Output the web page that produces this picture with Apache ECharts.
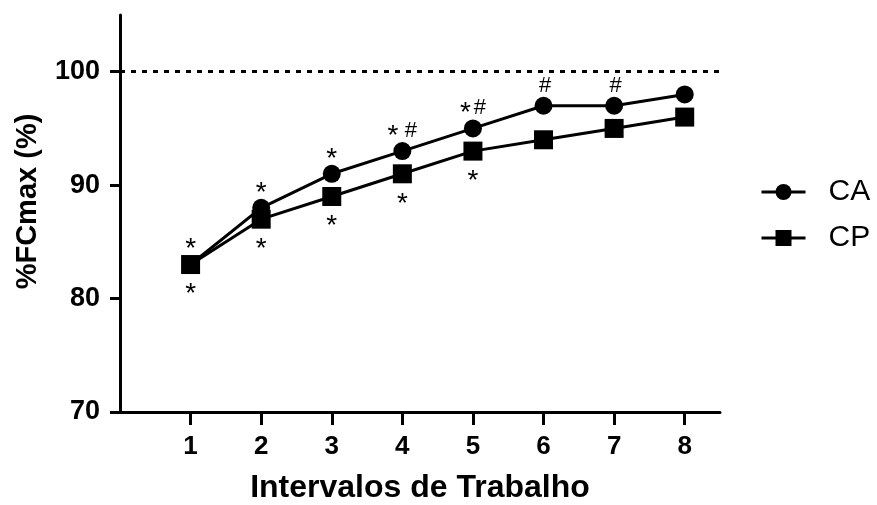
<!DOCTYPE html>
<html>
<head>
<meta charset="utf-8">
<script src="https://cdn.jsdelivr.net/npm/echarts@6/dist/echarts.min.js"></script>
<style>
    html, body { margin: 0; padding: 0; background: #fff; }
    #main { width: 877px; height: 505px; }
</style>
</head>
<body>
<div id="main"></div>
<script>
// dados do gráfico
var intervals = [1, 2, 3, 4, 5, 6, 7, 8];
var caValues = [83, 88, 91, 93, 95, 97, 97, 98];
var cpValues = [83, 87, 89, 91, 93, 94, 95, 96];
// marcas de significância (acima de CA, abaixo de CP)
var caMarks = ['*', '*', '*', '* #', '*#', '#', '#', ''];
var cpMarks = ['*', '*', '*', '*', '*', '', '', ''];
var yTicks = [70, 80, 90, 100];
var refLine = 100;

var font = "'Liberation Sans', Arial, sans-serif";

// converte a marca em rich text ('*' um pouco mais baixo que '#')
function markText(str) {
    return str.split('').map(function (c) {
        if (c == '*') return '{s|*}';
        if (c == '#') return '{h|#}';
        return '{g| }';
    }).join('');
}

function buildData(values, marks) {
    return intervals.map(function (x, i) {
        return { value: [x, values[i]], label: { formatter: markText(marks[i]) } };
    });
}

var markRich = {
    s: { fontSize: 28, color: '#000', padding: [10, 0, 0, 0], fontFamily: font },
    h: { fontSize: 22, color: '#000', padding: [0, 0, 0, 3], fontFamily: font },
    g: { fontSize: 12, color: '#000', fontFamily: font }
};

var chart = echarts.init(document.getElementById('main'));

var option = {
    animation: false,
    backgroundColor: '#fff',
    textStyle: { fontFamily: font },
    grid: { left: 120, right: 157, top: 15, bottom: 93, outerBoundsMode: 'none' },
    legend: {
        orient: 'vertical',
        left: 755,
        top: 172,
        itemWidth: 44,
        itemHeight: 20,
        itemGap: 16,
        lineStyle: { width: 3 },
        textStyle: { fontSize: 30, color: '#000', fontFamily: font, padding: [0, 0, 0, 18] },
        data: ['CA', 'CP']
    },
    xAxis: {
        type: 'value',
        min: 0,
        max: 8.5,
        interval: 1,
        name: 'Intervalos de Trabalho',
        nameLocation: 'middle',
        nameGap: 60,
        nameTextStyle: { fontSize: 32, fontWeight: 'bold', color: '#000', fontFamily: font },
        splitLine: { show: false },
        axisLine: { lineStyle: { color: '#000', width: 3 } },
        axisTick: { length: 13, lineStyle: { color: '#000', width: 3 }, customValues: intervals },
        axisLabel: { fontSize: 26, fontWeight: 'bold', color: '#000', margin: 22, customValues: intervals }
    },
    yAxis: {
        type: 'value',
        min: 70,
        max: 105,
        interval: 10,
        name: '%FCmax (%)',
        nameLocation: 'middle',
        nameGap: 78,
        nameTextStyle: { fontSize: 29, fontWeight: 'bold', color: '#000', fontFamily: font, padding: [0, 0, 0, 24] },
        splitLine: { show: false },
        axisLine: { show: true, lineStyle: { color: '#000', width: 3 } },
        axisTick: { show: true, length: 10, lineStyle: { color: '#000', width: 3 }, customValues: yTicks },
        axisLabel: { fontSize: 27, fontWeight: 'bold', color: '#000', margin: 20, customValues: yTicks }
    },
    series: [
        {
            name: 'CA',
            type: 'line',
            symbol: 'circle',
            symbolSize: 18,
            lineStyle: { color: '#000', width: 3 },
            itemStyle: { color: '#000' },
            label: { show: true, position: 'inside', offset: [0, -20], rich: markRich },
            data: buildData(caValues, caMarks),
            markLine: {
                silent: true,
                symbol: 'none',
                label: { show: false },
                lineStyle: { color: '#000', width: 3, type: [5, 6] },
                data: [{ yAxis: refLine }]
            }
        },
        {
            name: 'CP',
            type: 'line',
            symbol: 'rect',
            symbolSize: 19,
            lineStyle: { color: '#000', width: 3 },
            itemStyle: { color: '#000' },
            label: { show: true, position: 'inside', offset: [0, 25], rich: markRich },
            data: buildData(cpValues, cpMarks)
        }
    ]
};

chart.setOption(option);
</script>
</body>
</html>
